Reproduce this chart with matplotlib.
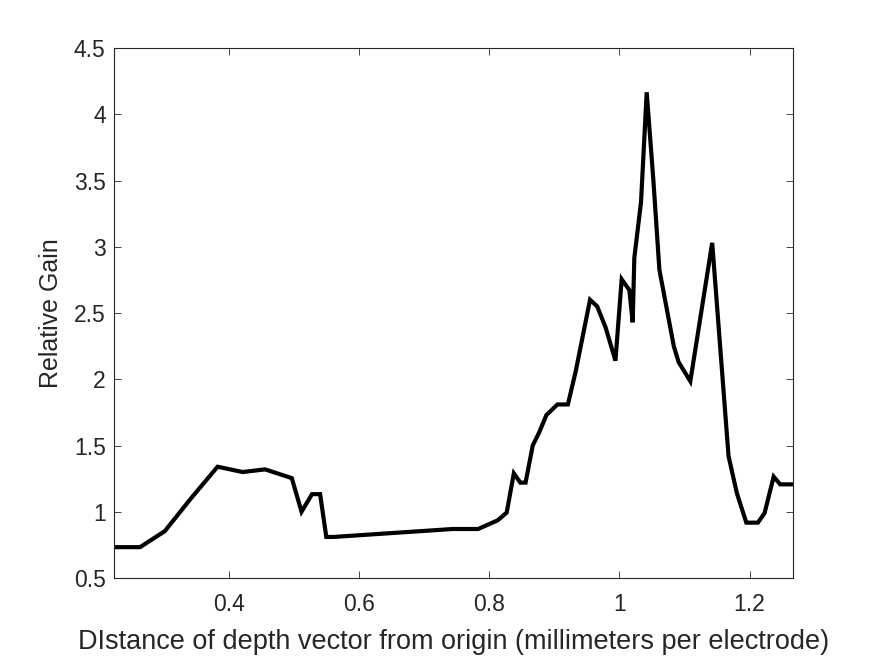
import matplotlib
matplotlib.use("Agg")
import matplotlib.pyplot as plt

# distancia do vetor de profundidade (mm por eletrodo) e ganho relativo
distancia = [0.224, 0.264, 0.302, 0.342, 0.383, 0.4215, 0.456, 0.497, 0.512, 0.528,
             0.5405, 0.550, 0.561, 0.744, 0.783, 0.797, 0.813, 0.827, 0.838, 0.848,
             0.856, 0.867, 0.877, 0.888, 0.905, 0.921, 0.933, 0.955, 0.966, 0.979,
             0.994, 1.0036, 1.0154, 1.0205, 1.023, 1.0333, 1.042, 1.0523, 1.0615,
             1.0836, 1.091, 1.109, 1.1426, 1.1677, 1.1805, 1.195, 1.2128, 1.223,
             1.237, 1.247, 1.2667]
ganho = [0.733, 0.733, 0.854, 1.10, 1.34, 1.30, 1.32, 1.254, 1.00, 1.133,
         1.133, 0.81, 0.81, 0.87, 0.87, 0.90, 0.935, 0.994, 1.29, 1.22,
         1.22, 1.50, 1.60, 1.73, 1.81, 1.81, 2.06, 2.60, 2.55, 2.39,
         2.14, 2.755, 2.673, 2.43, 2.916, 3.337, 4.166, 3.50, 2.827,
         2.25, 2.13, 1.985, 3.03, 1.42, 1.14, 0.918, 0.918, 0.99,
         1.265, 1.207, 1.207]

xticks = [0.4, 0.6, 0.8, 1.0, 1.2]
xticklabels = ["0.4", "0.6", "0.8", "1", "1.2"]
yticks = [0.5, 1, 1.5, 2, 2.5, 3, 3.5, 4, 4.5]
yticklabels = ["0.5", "1", "1.5", "2", "2.5", "3", "3.5", "4", "4.5"]

plt.rcParams["font.family"] = ["Liberation Sans", "DejaVu Sans"]
cinza = "#262626"

fig = plt.figure(figsize=(8.75, 6.57), dpi=100)
ax = fig.add_axes([0.1303, 0.1202, 0.776, 0.8067])

ax.plot(distancia, ganho, color="black", linewidth=3, solid_joinstyle="miter")

ax.set_xlim(min(distancia), max(distancia))
ax.set_ylim(0.5, 4.5)
ax.set_xticks(xticks)
ax.set_xticklabels(xticklabels)
ax.set_yticks(yticks)
ax.set_yticklabels(yticklabels)

ax.tick_params(direction="in", length=5, width=0.6, colors=cinza,
               labelsize=16.5, top=True, right=True)
ax.tick_params(axis="x", pad=11)
ax.tick_params(axis="y", pad=6)
for s in ax.spines.values():
    s.set_color(cinza)
    s.set_linewidth(0.8)

ax.set_xlabel("DIstance of depth vector from origin (millimeters per electrode)",
              fontsize=19.5, color=cinza, labelpad=9)
ax.set_ylabel("Relative Gain", fontsize=18, color=cinza, labelpad=8)

fig.savefig("out.png", dpi=100)
